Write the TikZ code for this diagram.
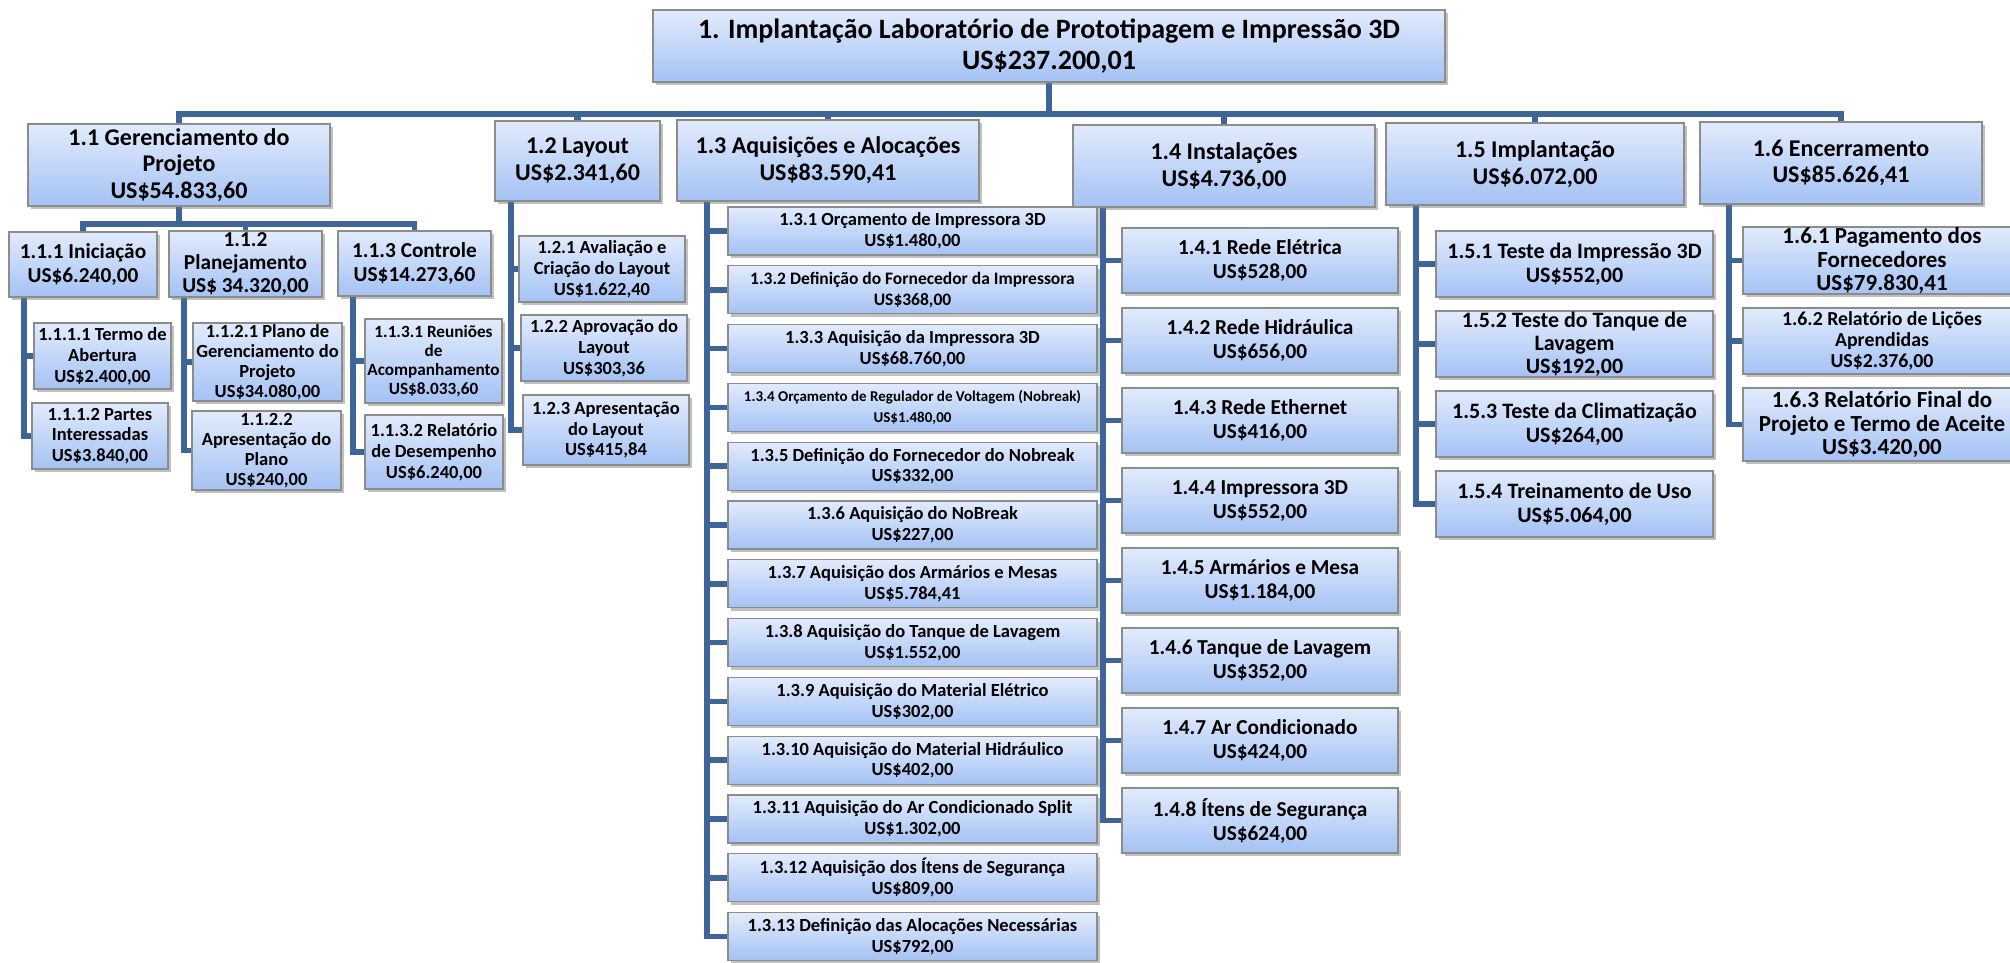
\documentclass[tikz,border=0pt]{standalone}
\usepackage{fontspec}
\setmainfont{Carlito}
\usetikzlibrary{shadows}
\definecolor{boxtop}{RGB}{226,235,252}
\definecolor{boxbot}{RGB}{164,194,244}
\definecolor{boxline}{RGB}{140,140,140}
\definecolor{conn}{RGB}{62,101,152}
\pgfdeclarelayer{background}
\pgfsetlayers{background,main}
\newcommand{\wbs}[7]{%
  \pgfmathsetmacro\wbsw{(#4)-(#2)}%
  \pgfmathsetmacro\wbsh{(#5)-(#3)}%
  \pgfmathsetmacro\wbsx{((#2)+(#4))/2}%
  \pgfmathsetmacro\wbsy{((#3)+(#5))/2}%
  \node[box,#6,minimum width=\wbsw pt,minimum height=\wbsh pt] (#1) at (\wbsx,\wbsy) {#7};}
\begin{document}
\begin{tikzpicture}[x=1pt,y=-1pt,
  box/.style={draw=boxline, line width=1.1pt, top color=boxtop, bottom color=boxbot,
    inner sep=0pt, align=center,
    drop shadow={shadow xshift=2.5pt, shadow yshift=-3pt, opacity=0.45, fill=black!55}},
  lv0/.style={font=\bfseries\fontsize{28}{30.7}\selectfont},
  lv1/.style={font=\bfseries\fontsize{24}{26.7}\selectfont},
  lv2/.style={font=\bfseries\fontsize{21.3}{24}\selectfont},
  lv2b/.style={font=\bfseries\fontsize{22}{24}\selectfont},
  lv2t/.style={font=\bfseries\fontsize{21.3}{23}\selectfont},
  lv2bt/.style={font=\bfseries\fontsize{22}{23}\selectfont},
  lv2c/.style={font=\bfseries\fontsize{23}{23.3}\selectfont},
  lv3/.style={font=\bfseries\fontsize{18.5}{20.8}\selectfont},
  lv3b/.style={font=\bfseries\fontsize{19.8}{21}\selectfont},
  lv3t/.style={font=\bfseries\fontsize{18.5}{20}\selectfont},
  lv3s/.style={font=\bfseries\fontsize{17.2}{19}\selectfont},
  lv3x/.style={font=\bfseries\fontsize{17.5}{20.7}\selectfont},
  lv4/.style={font=\bfseries\fontsize{15}{20.7}\selectfont},
  line0/.style={draw=conn, line width=6.5pt},
  line1/.style={draw=conn, line width=5.5pt}]
\useasboundingbox (0,0) rectangle (2010,962);

% root
\wbs{root}{653}{10}{1445}{82}{lv0}{1. Implantação Laboratório de Prototipagem e Impressão 3D\\US\$237.200,01}

% level 1
\wbs{n11}{28}{124}{330}{206}{lv1}{1.1 Gerenciamento do\\Projeto\\US\$54.833,60}
\wbs{n12}{495}{121}{660}{201}{lv1}{1.2 Layout\\US\$2.341,60}
\wbs{n13}{677}{120}{979}{201}{lv1}{1.3 Aquisições e Alocações\\US\$83.590,41}
\wbs{n14}{1073}{125}{1375}{207}{lv1}{1.4 Instalações\\US\$4.736,00}
\wbs{n15}{1386}{123}{1684}{205}{lv1}{1.5 Implantação\\US\$6.072,00}
\wbs{n16}{1700}{122}{1982}{204}{lv1}{1.6 Encerramento\\US\$85.626,41}

% 1.1 subtree
\wbs{n111}{9}{232}{157}{297}{lv2}{1.1.1 Iniciação\\US\$6.240,00}
\wbs{n112}{169}{231}{322}{297}{lv2t}{1.1.2\\Planejamento\\US\$ 34.320,00}
\wbs{n113}{338}{231}{491}{296}{lv2}{1.1.3 Controle\\US\$14.273,60}
\wbs{n1111}{34}{323}{171}{389}{lv3}{1.1.1.1 Termo de\\Abertura\\US\$2.400,00}
\wbs{n1112}{32}{403}{168}{469}{lv3}{1.1.1.2 Partes\\Interessadas\\US\$3.840,00}
\wbs{n1121}{193}{323}{342}{401}{lv3t}{1.1.2.1 Plano de\\Gerenciamento do\\Projeto\\US\$34.080,00}
\wbs{n1122}{192}{411}{341}{490}{lv3t}{1.1.2.2\\Apresentação do\\Plano\\US\$240,00}
\wbs{n1131}{365}{319}{502}{403}{lv3s}{1.1.3.1 Reuniões\\de\\Acompanhamento\\US\$8.033,60}
\wbs{n1132}{365}{415}{503}{489}{lv3}{1.1.3.2 Relatório\\de Desempenho\\US\$6.240,00}

% 1.2 subtree
\wbs{n121}{519}{236}{685}{302}{lv3}{1.2.1 Avaliação e\\Criação do Layout\\US\$1.622,40}
\wbs{n122}{521}{315}{687}{381}{lv3}{1.2.2 Aprovação do\\Layout\\US\$303,36}
\wbs{n123}{523}{395}{689}{465}{lv3}{1.2.3 Apresentação\\do Layout\\US\$415,84}

% 1.3 subtree
\wbs{n131}{728}{207}{1097}{255}{lv3}{1.3.1 Orçamento de Impressora 3D\\US\$1.480,00}
\wbs{n132}{728}{265.8}{1097}{313.8}{lv3x}{1.3.2 Definição do Fornecedor da Impressora\\US\$368,00}
\wbs{n133}{728}{324.6}{1097}{372.6}{lv3}{1.3.3 Aquisição da Impressora 3D\\US\$68.760,00}
\wbs{n134}{728}{383.4}{1097}{431.4}{lv4}{1.3.4 Orçamento de Regulador de Voltagem (Nobreak)\\US\$1.480,00}
\wbs{n135}{728}{442.2}{1097}{490.2}{lv3}{1.3.5 Definição do Fornecedor do Nobreak\\US\$332,00}
\wbs{n136}{728}{501}{1097}{549}{lv3}{1.3.6 Aquisição do NoBreak\\US\$227,00}
\wbs{n137}{728}{559.8}{1097}{607.8}{lv3}{1.3.7 Aquisição dos Armários e Mesas\\US\$5.784,41}
\wbs{n138}{728}{618.6}{1097}{666.6}{lv3}{1.3.8 Aquisição do Tanque de Lavagem\\US\$1.552,00}
\wbs{n139}{728}{677.4}{1097}{725.4}{lv3}{1.3.9 Aquisição do Material Elétrico\\US\$302,00}
\wbs{n1310}{728}{736.2}{1097}{784.2}{lv3}{1.3.10 Aquisição do Material Hidráulico\\US\$402,00}
\wbs{n1311}{728}{795}{1097}{843}{lv3}{1.3.11 Aquisição do Ar Condicionado Split\\US\$1.302,00}
\wbs{n1312}{728}{853.8}{1097}{901.8}{lv3}{1.3.12 Aquisição dos Ítens de Segurança\\US\$809,00}
\wbs{n1313}{728}{912.6}{1097}{960.6}{lv3}{1.3.13 Definição das Alocações Necessárias\\US\$792,00}

% 1.4 subtree
\wbs{n141}{1122}{228}{1398}{293}{lv2}{1.4.1 Rede Elétrica\\US\$528,00}
\wbs{n142}{1122}{308}{1398}{373}{lv2}{1.4.2 Rede Hidráulica\\US\$656,00}
\wbs{n143}{1122}{388}{1398}{453}{lv2}{1.4.3 Rede Ethernet\\US\$416,00}
\wbs{n144}{1122}{468}{1398}{533}{lv2}{1.4.4 Impressora 3D\\US\$552,00}
\wbs{n145}{1122}{548}{1398}{613}{lv2}{1.4.5 Armários e Mesa\\US\$1.184,00}
\wbs{n146}{1122}{628}{1398}{693}{lv2}{1.4.6 Tanque de Lavagem\\US\$352,00}
\wbs{n147}{1122}{708}{1398}{773}{lv2}{1.4.7 Ar Condicionado\\US\$424,00}
\wbs{n148}{1122}{788}{1398}{853}{lv2}{1.4.8 Ítens de Segurança\\US\$624,00}

% 1.5 subtree
\wbs{n151}{1436}{231}{1713}{297}{lv2b}{1.5.1 Teste da Impressão 3D\\US\$552,00}
\wbs{n152}{1436}{311}{1713}{377}{lv2bt}{1.5.2 Teste do Tanque de\\Lavagem\\US\$192,00}
\wbs{n153}{1436}{391}{1713}{457}{lv2b}{1.5.3 Teste da Climatização\\US\$264,00}
\wbs{n154}{1436}{471}{1713}{537}{lv2b}{1.5.4 Treinamento de Uso\\US\$5.064,00}

% 1.6 subtree
\wbs{n161}{1743}{227}{2021}{294}{lv2c}{1.6.1 Pagamento dos\\Fornecedores\\US\$79.830,41}
\wbs{n162}{1743}{308}{2021}{374}{lv3b}{1.6.2 Relatório de Lições\\Aprendidas\\US\$2.376,00}
\wbs{n163}{1743}{388}{2021}{461}{lv2c}{1.6.3 Relatório Final do\\Projeto e Termo de Aceite\\US\$3.420,00}

\begin{pgfonlayer}{background}
  \coordinate (bar) at (0,114);
  \foreach \n in {n11,n12,n13,n14,n15,n16}
    \draw[line0] (root.south) -- (root.south |- bar) -| (\n.north);
  \coordinate (bar11) at (0,224);
  \foreach \n in {n111,n112,n113}
    \draw[line1] (n11.south) -- (n11.south |- bar11) -| (\n.north);
  \coordinate (s111) at (24,0);
  \foreach \n in {n1111,n1112} \draw[line1] (s111 |- n111.south) |- (\n.west);
  \coordinate (s112) at (184,0);
  \foreach \n in {n1121,n1122} \draw[line1] (s112 |- n112.south) |- (\n.west);
  \coordinate (s113) at (353,0);
  \foreach \n in {n1131,n1132} \draw[line1] (s113 |- n113.south) |- (\n.west);
  \coordinate (s12) at (511,0);
  \foreach \n in {n121,n122,n123} \draw[line1] (s12 |- n12.south) |- (\n.west);
  \coordinate (s13) at (707,0);
  \foreach \n in {n131,n132,n133,n134,n135,n136,n137,n138,n139,n1310,n1311,n1312,n1313}
    \draw[line1] (s13 |- n13.south) |- (\n.west);
  \coordinate (s14) at (1103,0);
  \foreach \n in {n141,n142,n143,n144,n145,n146,n147,n148} \draw[line1] (s14 |- n14.south) |- (\n.west);
  \coordinate (s15) at (1416,0);
  \foreach \n in {n151,n152,n153,n154} \draw[line1] (s15 |- n15.south) |- (\n.west);
  \coordinate (s16) at (1729,0);
  \foreach \n in {n161,n162,n163} \draw[line1] (s16 |- n16.south) |- (\n.west);
\end{pgfonlayer}
\end{tikzpicture}
\end{document}
